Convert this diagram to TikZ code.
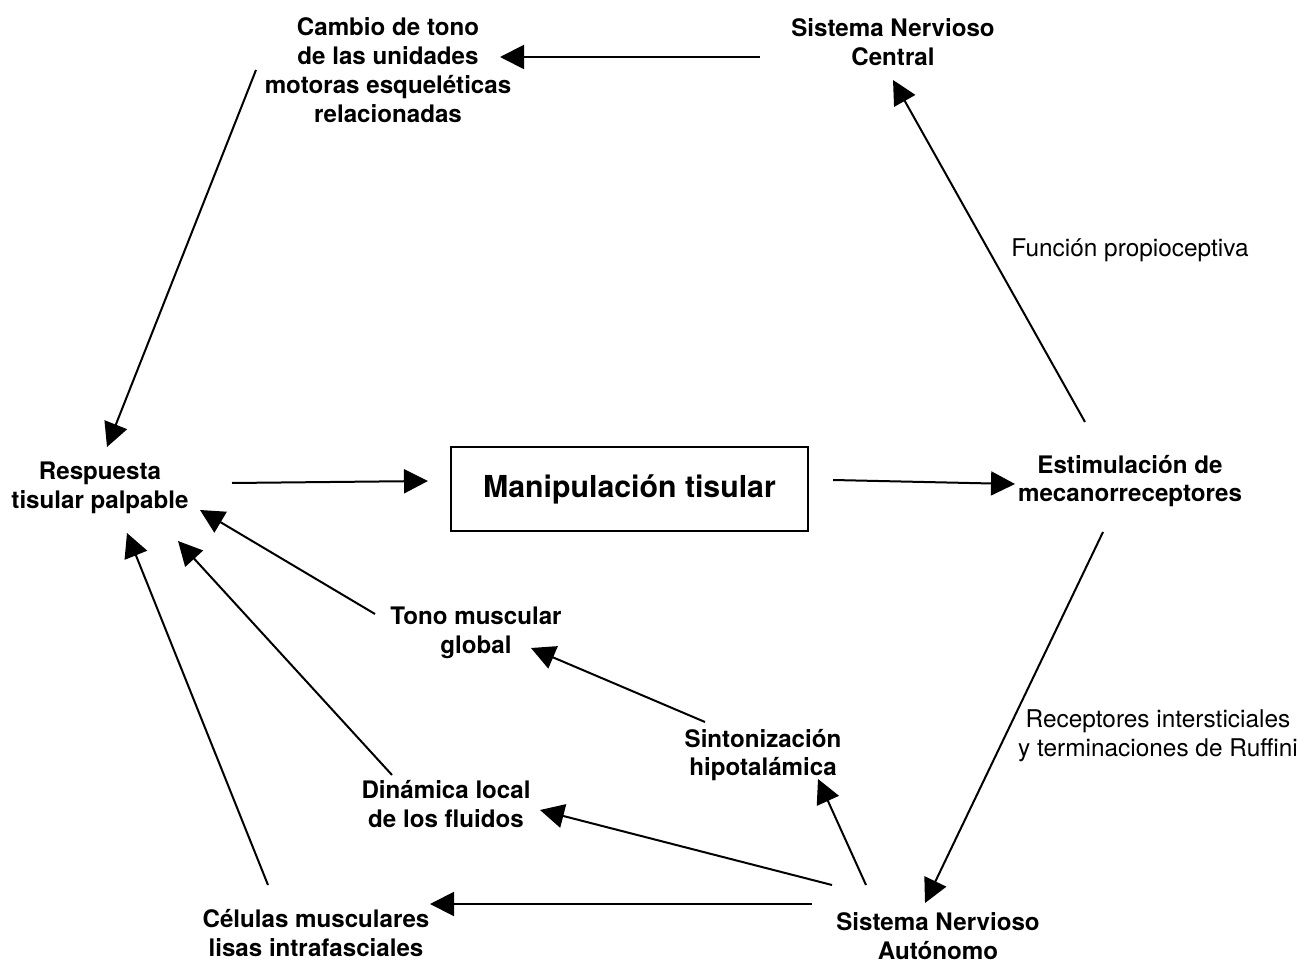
\documentclass[tikz,border=0pt]{standalone}
\usepackage{fontspec}
\setmainfont{TeX Gyre Heros}
\usetikzlibrary{arrows.meta}
\tikzset{
  lbl/.style={inner sep=0pt, align=center, font=\bfseries\fontsize{18.1}{21.6}\selectfont},
  note/.style={inner sep=0pt, align=center, font=\fontsize{18.3}{21.6}\selectfont},
  conn/.style={line width=1.5pt, -{Triangle[length=18pt,width=18pt]}},
  mainbox/.style={draw, line width=1pt, minimum width=267.75pt, minimum height=63pt, inner sep=0pt, font=\bfseries\fontsize{22.7}{26}\selectfont}
}
\begin{document}
\begin{tikzpicture}[x=0.75pt,y=-0.75pt]
\useasboundingbox (0,0) rectangle (1298,962);
\node[lbl] (cambio) at (388,70) {Cambio de tono\\de las unidades\\motoras esqueléticas\\relacionadas};
\node[lbl] (snc) at (893,42) {Sistema Nervioso\\Central};
\node[lbl] (resp) at (100,488) {Respuesta\\tisular palpable};
\node[mainbox] (manip) at (629.5,489) {Manipulación tisular};
\node[lbl] (estim) at (1130,481) {Estimulación de\\mecanorreceptores};
\node[lbl] (tono) at (476,633) {Tono muscular\\global};
\node[lbl] (sint) at (763,755) {Sintonización\\hipotalámica};
\node[lbl] (dina) at (446,804) {Dinámica local\\de los fluidos};
\node[lbl] (cel) at (316,933) {Células musculares\\lisas intrafasciales};
\node[lbl] (sna) at (938,936) {Sistema Nervioso\\Autónomo};
\node[note] (func) at (1130,250) {Función propioceptiva};
\node[note] (recep) at (1158,736) {Receptores intersticiales\\y terminaciones de Ruffini};

\draw[conn] ([shift={(-133,15)}]snc.center) -- ([shift={(112,-13)}]cambio.center);
\draw[conn] ([shift={(-132,0)}]cambio.center) -- ([shift={(7,-41)}]resp.center);
\draw[conn] ([shift={(132,-5)}]resp.center) -- ([shift={(-201.5,-8)}]manip.center);
\draw[conn] ([shift={(203.5,-9)}]manip.center) -- ([shift={(-115,3)}]estim.center);
\draw[conn] ([shift={(-45,-59)}]estim.center) -- ([shift={(0,38)}]snc.center);
\draw[conn] ([shift={(-27,51)}]estim.center) -- ([shift={(-13,-33)}]sna.center);
\draw[conn] ([shift={(-72,-51)}]sna.center) -- ([shift={(55,24)}]sint.center);
\draw[conn] ([shift={(-106,-51)}]sna.center) -- ([shift={(94,6)}]dina.center);
\draw[conn] ([shift={(-126,-32)}]sna.center) -- ([shift={(114,-29)}]cel.center);
\draw[conn] ([shift={(-58,-33)}]sint.center) -- ([shift={(55,15)}]tono.center);
\draw[conn] ([shift={(-101,-19)}]tono.center) -- ([shift={(100,22)}]resp.center);
\draw[conn] ([shift={(-54,-29)}]dina.center) -- ([shift={(78,53)}]resp.center);
\draw[conn] ([shift={(-48,-48)}]cel.center) -- ([shift={(27,45)}]resp.center);
\end{tikzpicture}
\end{document}
